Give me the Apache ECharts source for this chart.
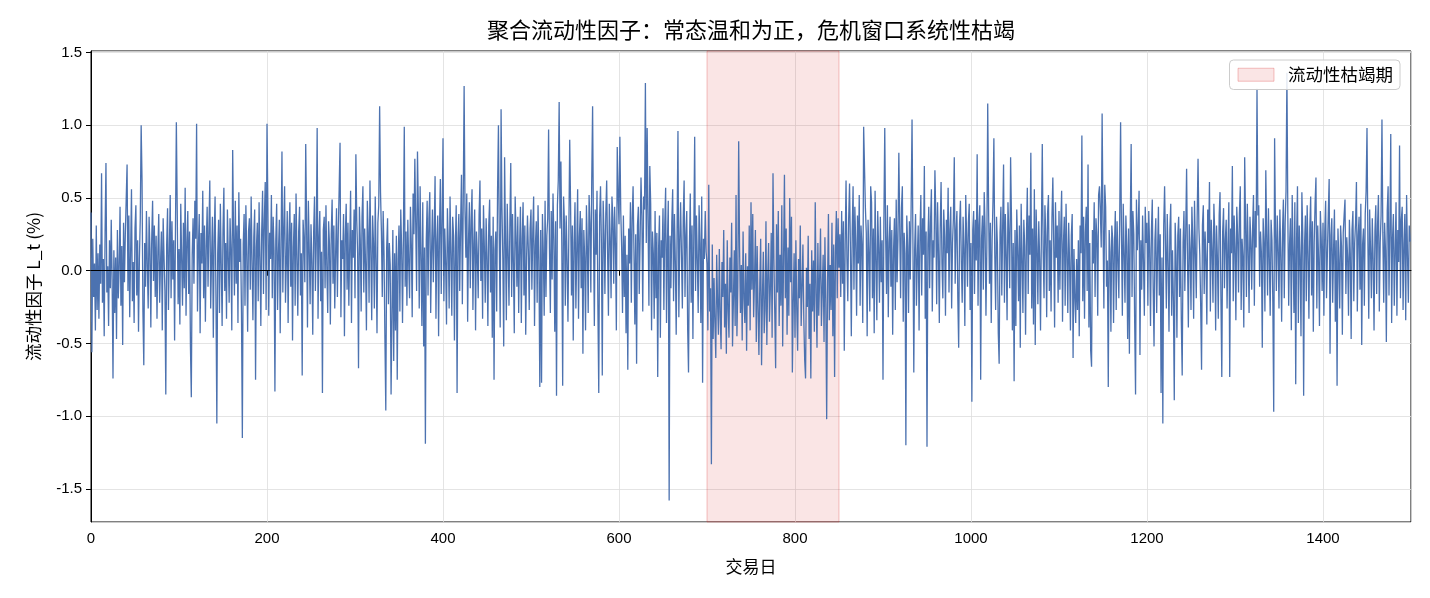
<!DOCTYPE html>
<html>
<head>
<meta charset="utf-8">
<script src="https://cdn.jsdelivr.net/npm/echarts@6/dist/echarts.min.js"></script>
<style>html,body{margin:0;padding:0;background:#fff}#c{width:1430px;height:598px}</style>
</head>
<body>
<div id="c"></div>
<script>
// ---- data ----
const titleText = '聚合流动性因子：常态温和为正，危机窗口系统性枯竭';
const xName = '交易日';
const yName = '流动性因子 L_t (%)';
const bandName = '流动性枯竭期';
const crisisWindow = [700, 850];
const xTicks = [0, 200, 400, 600, 800, 1000, 1200, 1400];
const yTicks = [-1.5, -1.0, -0.5, 0.0, 0.5, 1.0, 1.5];

const seg0 = [0.40,-0.56,0.22,-0.18,0.05,-0.41,0.31,-0.27,0.12,-0.33,
0.18,-0.09,0.67,-0.22,0.08,-0.45,0.26,0.74,-0.15,0.03,
-0.38,0.21,-0.12,0.35,-0.06,-0.74,0.14,-0.29,0.09,-0.47,
0.28,-0.19,0.02,0.44,-0.24,0.17,-0.51,0.33,-0.08,0.25,
0.49,0.73,-0.14,0.38,-0.32,0.11,0.56,-0.21,0.06,-0.36,
0.29,0.45,-0.17,0.21,-0.42,0.08,0.36,1.00,0.62,-0.28,
-0.65,0.19,-0.11,0.41,0.03,-0.26,0.37,0.15,-0.39,0.22,
0.48,-0.07,0.31,-0.18,0.24,-0.33,0.13,0.39,-0.22,0.05,
0.27,-0.41,0.36,0.09,-0.14,-0.85,0.18,0.43,-0.27,0.12,
0.52,-0.19,0.34,-0.06,0.21,-0.48,0.29,1.02,0.41,-0.23];
const seg1 = [0.15,-0.37,0.46,0.08,-0.24,0.33,-0.12,0.57,-0.31,0.19,
0.41,-0.16,0.27,-0.52,-0.87,0.11,0.36,-0.09,0.48,0.22,
1.01,-0.28,0.14,0.39,-0.43,0.26,0.05,0.55,-0.19,0.31,
-0.35,0.17,0.44,-0.11,0.29,0.62,-0.26,0.08,0.37,-0.46,
0.23,0.51,-0.18,-1.05,0.12,0.35,-0.29,0.46,0.04,-0.38,
0.28,0.57,-0.14,0.19,-0.33,0.42,0.09,-0.22,0.36,0.14,
-0.41,0.83,0.25,-0.17,0.48,-0.09,0.31,-0.36,0.54,0.06,
0.22,-0.29,-1.15,0.18,0.39,-0.24,0.45,0.11,-0.42,0.27,
0.36,-0.13,0.51,0.07,-0.34,0.23,0.42,-0.75,0.16,0.33,
-0.21,0.47,0.09,-0.38,0.28,0.55,-0.16,0.35,0.61,-0.27];
const seg2 = [1.01,0.44,-0.31,0.26,0.08,0.52,-0.19,0.37,0.14,-0.83,
0.21,0.46,-0.27,0.12,0.35,-0.43,0.18,0.82,-0.15,0.29,
0.58,-0.22,0.06,0.41,-0.36,0.24,0.47,-0.11,0.33,-0.48,
0.16,0.39,-0.24,0.53,0.09,-0.31,0.27,0.44,-0.17,0.12,
-0.72,0.35,0.21,-0.08,0.87,0.31,-0.39,0.48,0.15,-0.23,
0.32,0.06,-0.44,0.26,0.51,-0.14,0.19,0.98,-0.33,0.22,
0.41,-0.21,0.13,-0.84,0.28,0.37,-0.12,0.45,0.02,-0.29,
0.34,0.18,-0.37,0.25,0.49,-0.09,0.31,-0.26,0.12,0.43,
-0.18,0.27,0.56,0.88,-0.32,0.21,0.08,0.39,-0.45,0.24,
0.46,-0.13,0.33,-0.24,0.17,0.55,-0.36,0.28,0.09,0.42];
const seg3 = [-0.19,0.80,0.35,0.12,-0.67,0.44,0.21,-0.28,0.37,0.58,
-0.15,0.29,0.05,-0.41,0.48,0.26,-0.22,0.62,0.13,-0.34,
0.38,0.19,-0.26,0.51,0.07,-0.43,0.33,0.45,1.13,0.54,
0.27,-0.18,0.41,0.11,-0.47,-0.96,0.16,0.36,-0.23,0.19,
0.04,-0.85,-0.31,0.28,-0.62,0.12,-0.41,0.24,-0.75,0.08,
0.31,-0.28,0.42,0.15,-0.36,0.22,0.99,-0.11,0.27,-0.24,
0.35,0.06,-0.19,0.44,0.18,-0.32,0.53,0.25,0.77,0.32,
-0.14,0.82,0.41,-0.26,0.58,0.09,-0.38,0.47,-0.52,0.16,
-1.19,0.21,0.48,-0.17,0.36,0.54,-0.29,0.13,0.42,-0.08,
0.26,0.65,-0.33,0.19,0.38,-0.45,0.28,0.63,-0.16,0.34];
const seg4 = [0.91,-0.21,0.29,0.06,-0.37,0.43,0.18,-0.26,0.51,0.12,
-0.31,0.37,0.24,-0.48,0.15,0.45,-0.84,0.22,0.39,-0.14,
0.31,0.66,-0.23,0.48,1.27,0.41,0.09,0.53,-0.35,0.21,
0.47,-0.12,0.34,0.56,-0.27,0.18,0.42,-0.41,0.27,0.11,
-0.19,0.38,0.62,-0.07,0.29,-0.33,0.45,0.16,-0.22,0.36,
0.09,-0.38,0.31,0.49,-0.15,0.24,-0.46,0.37,-0.75,0.14,
0.27,-0.28,0.55,1.00,0.19,-0.39,1.11,0.43,0.08,-0.52,
0.78,0.21,-0.34,0.46,0.12,-0.24,0.33,0.74,-0.18,0.39,
0.05,-0.43,0.51,0.24,-0.11,0.37,-0.29,0.16,0.44,-0.36,
0.22,0.47,-0.17,0.31,-0.44,0.09,0.38,0.14,-0.27,0.29];
const seg5 = [0.42,-0.13,0.26,0.51,-0.38,0.17,0.34,-0.22,0.45,0.07,
-0.80,0.28,-0.77,0.39,0.12,-0.31,0.48,-0.18,0.24,0.36,
0.97,0.15,-0.29,0.41,-0.06,0.53,0.22,-0.42,0.34,-0.86,
0.45,0.62,1.16,0.29,0.75,0.18,-0.79,0.51,0.33,-0.24,
0.38,0.07,-0.35,0.26,0.90,0.44,-0.17,0.31,-0.48,0.19,
0.47,-0.26,0.14,0.56,-0.33,0.23,0.41,-0.12,0.36,-0.57,
0.28,0.09,-0.41,0.45,0.17,-0.29,0.52,0.33,-0.15,0.61,
1.13,0.26,-0.38,0.42,0.11,0.55,-0.24,-0.84,0.37,0.58,
0.19,-0.72,0.48,0.25,-0.16,0.39,0.62,0.14,-0.31,0.46,
0.23,-0.19,0.51,0.36,-0.09,0.44,0.18,-0.41,0.85,0.53];
const seg6 = [0.32,0.92,0.41,0.16,-0.29,0.38,-0.18,0.24,-0.43,0.11,
-0.68,0.29,0.05,0.47,-0.22,0.36,0.58,0.13,-0.37,0.25,
-0.64,0.31,0.44,-0.16,0.22,0.64,0.38,-0.28,0.51,0.42,
1.29,0.19,0.98,0.35,-0.24,0.72,0.46,-0.41,0.27,0.12,
-0.33,0.41,-0.19,0.26,-0.73,0.15,0.38,-0.46,0.21,0.09,
0.43,-0.27,0.31,0.57,-0.36,0.18,0.48,-1.58,0.24,-0.12,
0.33,0.56,-0.21,0.39,0.07,-0.44,0.28,0.96,-0.32,0.19,
0.47,0.11,-0.26,0.36,0.62,-0.18,0.24,0.41,-0.39,-0.70,
0.15,0.53,-0.22,0.31,-0.47,0.26,0.92,-0.14,0.38,0.07,
-0.29,0.45,0.19,-0.36,0.51,-0.77,0.22,0.08,0.41,0.13];
const seg7 = [0.05,-0.41,0.59,-0.28,-0.12,-1.33,0.18,-0.47,-0.05,-0.36,
-0.60,0.11,-0.22,-0.44,0.15,-0.31,-0.54,0.06,-0.18,0.28,
-0.39,-0.09,-0.57,0.21,-0.27,-0.46,0.09,-0.15,0.33,-0.52,
-0.21,0.14,-0.38,0.52,-0.45,-0.11,0.89,0.16,-0.29,0.04,
-0.48,0.27,-0.19,-0.36,0.12,-0.55,0.03,-0.24,0.31,-0.41,
0.47,-0.13,0.39,-0.32,-0.06,0.28,-0.49,0.17,-0.26,-0.58,
-0.09,0.22,-0.65,-0.18,0.13,-0.43,-0.27,0.34,-0.51,-0.04,
0.19,-0.35,-0.12,0.26,-0.46,0.67,0.08,-0.29,-0.67,0.32,
-0.15,0.41,-0.38,0.11,-0.24,0.45,-0.52,0.07,0.66,-0.19,
0.29,-0.44,0.16,-0.31,0.50,-0.08,0.37,-0.70,-0.22,0.12];
const seg8 = [-0.46,0.21,-0.27,-0.55,0.08,-0.19,0.31,-0.38,-0.12,0.18,
-0.33,-0.61,-0.74,0.02,-0.25,0.24,-0.47,-0.09,-0.74,0.14,
-0.28,0.07,-0.42,0.47,-0.16,-0.53,0.19,-0.31,-0.05,0.29,
-0.38,-0.14,0.11,-0.49,0.23,-0.22,-1.02,-0.08,0.39,-0.34,
0.04,-0.27,0.33,-0.45,0.18,-0.73,0.12,0.41,-0.19,0.36,
0.02,0.25,-0.18,0.41,-0.09,0.34,-0.55,0.17,0.62,0.08,
-0.21,0.36,0.60,0.14,-0.45,0.27,0.58,-0.13,0.44,0.19,
-0.31,0.38,0.05,0.52,-0.24,0.31,0.17,-0.36,0.99,0.99,
0.43,0.26,-0.45,0.35,0.12,-0.28,0.58,0.47,-0.19,0.29,
-0.43,0.55,0.08,-0.34,0.41,0.16,-0.22,0.37,-0.08,0.21];
const seg9 = [-0.75,0.33,0.98,0.24,-0.16,0.45,-0.32,0.19,0.37,-0.11,
0.28,-0.44,0.14,0.36,-0.27,0.49,-0.08,0.22,0.81,0.31,
-0.19,0.43,0.58,-0.35,0.26,0.12,-1.20,0.38,0.17,-0.29,
0.34,-0.06,0.46,1.04,0.21,-0.70,0.15,0.39,-0.24,0.08,
0.31,-0.41,0.24,0.52,-0.17,0.36,0.11,0.72,-0.33,0.27,
-1.21,0.18,0.44,-0.12,0.33,0.56,-0.28,0.21,0.09,0.69,
0.38,-0.23,0.47,0.14,-0.36,0.29,0.61,0.05,-0.19,0.42,
0.23,-0.31,0.35,0.12,0.57,-0.15,0.28,0.44,-0.26,0.19,
0.36,0.78,-0.09,0.27,0.41,-0.18,-0.53,0.32,0.48,0.06,
-0.22,0.37,0.15,-0.38,0.52,0.24,-0.11,0.33,0.46,-0.27];
const seg10 = [0.19,-0.90,0.28,0.41,-0.16,0.35,0.07,0.80,-0.24,0.31,
0.45,-0.75,0.22,0.38,-0.13,0.54,0.29,-0.31,0.16,1.15,
0.42,-0.09,0.33,-0.36,0.21,0.48,0.91,0.12,-0.27,0.37,
0.18,-0.43,-0.64,0.26,0.44,-0.17,0.31,0.73,-0.22,0.39,
0.11,-0.34,0.47,0.25,-0.12,0.78,0.36,-0.41,0.19,-0.76,
0.28,-0.38,0.42,0.14,-0.21,0.31,-0.53,0.46,0.09,-0.29,
0.35,0.17,-0.44,0.23,0.57,-0.16,0.38,0.11,0.81,-0.26,
0.29,-0.37,0.56,-0.51,0.42,0.16,-0.23,0.34,0.08,-0.41,
0.27,0.87,0.13,-0.19,0.45,0.24,-0.32,0.39,0.52,-0.14,
0.21,-0.28,0.36,0.64,0.18,-0.39,0.47,0.09,0.31,-0.22];
const seg11 = [0.41,-0.13,0.29,0.55,-0.35,0.18,0.37,-0.24,0.46,0.12,
-0.29,0.33,0.06,-0.41,0.24,0.39,-0.60,0.15,-0.18,-0.36,
0.08,-0.27,0.21,-0.45,0.31,0.12,0.93,-0.21,0.37,-0.33,
0.26,0.44,-0.14,0.73,-0.39,0.19,-0.55,-0.66,0.28,0.05,
0.47,-0.18,0.36,0.24,-0.31,0.52,0.58,0.41,0.16,1.08,
0.35,-0.26,0.59,0.44,-0.11,0.07,-0.80,0.28,0.13,-0.42,
0.31,0.22,-0.36,0.16,0.41,-0.27,0.34,0.08,-0.19,0.37,
1.02,0.24,-0.31,0.46,0.12,-0.22,0.38,0.17,-0.47,0.29,
-0.57,0.33,0.87,-0.18,0.41,0.25,-0.36,-0.85,0.49,0.14,
0.29,0.55,-0.58,0.21,-0.13,0.38,0.06,-0.31,0.44,0.19];
const seg12 = [0.33,-0.24,0.41,0.15,-0.38,0.27,0.49,-0.12,-0.52,0.21,
0.36,-0.29,0.12,0.44,-0.17,0.25,-0.84,0.09,-1.05,0.31,
0.58,0.17,-0.26,0.39,0.07,-0.42,0.28,0.46,-0.31,0.14,
-0.21,-0.89,0.33,0.11,-0.46,0.24,0.37,-0.18,0.29,-0.35,
-0.72,0.19,0.41,-0.14,0.26,0.70,0.08,-0.39,0.32,0.15,
-0.27,0.44,0.21,-0.33,0.48,0.13,-0.19,0.36,0.77,0.29,
0.11,-0.24,-0.68,0.31,0.45,-0.16,0.27,0.08,-0.37,0.42,
0.19,0.61,-0.28,0.35,0.14,-0.22,0.46,0.25,-0.41,0.31,
0.09,-0.33,0.38,0.54,-0.18,-0.73,0.27,0.43,-0.12,0.21,
0.35,-0.26,0.17,0.47,-0.73,0.29,0.12,0.72,-0.21,0.38];
const seg13 = [0.16,-0.34,0.44,0.25,-0.15,0.39,0.58,-0.27,0.22,0.09,
-0.39,0.78,0.33,-0.18,0.46,0.14,-0.29,0.37,0.21,-0.13,
0.29,0.52,-0.24,0.41,0.16,1.25,0.38,0.45,-0.11,0.27,
0.12,-0.53,0.36,0.19,-0.28,0.69,0.24,-0.17,0.43,0.08,
-0.31,0.35,0.21,-0.22,-0.97,0.91,0.29,-0.14,0.38,0.15,
-0.26,0.42,0.11,-0.35,0.27,0.49,-0.19,0.33,0.55,1.36,
0.41,-0.24,0.18,0.36,-0.41,0.52,0.13,-0.29,0.47,-0.78,
0.22,0.58,-0.36,0.31,0.09,-0.45,0.54,0.26,-0.86,0.17,
0.38,-0.21,0.45,0.12,-0.33,0.29,0.51,-0.17,0.34,-0.42,
0.19,0.46,0.64,-0.26,0.31,0.08,-0.38,0.41,0.22,-0.14];
const seg14 = [0.33,-0.31,0.27,0.48,-0.19,0.12,0.39,0.63,-0.57,0.24,
0.36,-0.22,0.14,0.42,-0.35,0.21,-0.79,0.29,0.07,-0.26,
0.31,0.17,-0.44,0.26,0.38,0.49,-0.16,0.23,0.09,-0.31,
0.35,0.12,-0.47,0.28,0.41,-0.21,0.19,0.33,0.61,-0.28,
0.24,0.37,-0.13,0.46,-0.51,0.18,0.29,-0.24,0.39,0.55,
0.98,0.21,-0.33,0.42,0.14,-0.19,0.36,0.08,-0.41,0.27,
0.45,-0.16,0.31,0.52,-0.28,0.19,0.38,1.04,0.26,-0.22,
0.33,0.14,-0.49,0.41,0.58,-0.17,0.27,0.94,-0.36,0.22,
0.39,-0.24,0.13,0.47,-0.31,0.28,0.06,0.86,-0.19,0.35,
0.44,-0.27,0.18,0.39,-0.34,0.52,0.11,-0.22,0.31,0.20];

const values = [].concat(seg0,seg1,seg2,seg3,seg4,seg5,seg6,seg7,seg8,seg9,seg10,seg11,seg12,seg13,seg14);
const lineData = values.map((v, i) => [i, v]);

const LATIN = "'Liberation Sans', 'Noto Sans CJK SC', sans-serif";
const CJK = "'Noto Sans CJK SC', 'Liberation Sans', sans-serif";
const bandFill = 'rgba(214,39,40,0.12)';
const bandEdge = 'rgba(214,39,40,0.28)';

const chart = echarts.init(document.getElementById('c'), null, {renderer: 'canvas'});
chart.setOption({
  animation: false,
  backgroundColor: '#ffffff',
  title: {
    text: titleText, left: 751, top: 19, textAlign: 'center', padding: 0,
    textStyle: {fontSize: 22, fontWeight: 'normal', color: '#000', fontFamily: CJK}
  },
  legend: {
    right: 30, top: 60, selectedMode: false,
    data: [{name: bandName, icon: 'rect', itemStyle: {color: bandFill, borderColor: bandEdge, borderWidth: 1}}],
    itemWidth: 36, itemHeight: 13,
    textStyle: {fontSize: 17.5, color: '#000', fontFamily: CJK, padding: [0, 0, 0, 9]},
    backgroundColor: 'rgba(255,255,255,0.85)', borderColor: '#cccccc', borderWidth: 1, borderRadius: 4,
    padding: [6, 7, 6, 8]
  },
  grid: {left: 91, right: 19, top: 51, bottom: 76, show: true, borderColor: '#000', borderWidth: 1, backgroundColor: 'transparent'},
  xAxis: {
    type: 'value', min: 0, max: 1500, interval: 200,
    name: xName, nameLocation: 'middle', nameGap: 36,
    nameTextStyle: {fontSize: 17, color: '#000', fontFamily: CJK},
    axisLine: {show: true, lineStyle: {color: '#000', width: 1}},
    axisTick: {show: true, inside: false, length: 5, lineStyle: {color: '#000', width: 1}},
    axisLabel: {color: '#000', fontSize: 15, fontFamily: LATIN, margin: 9, showMaxLabel: false,
      formatter: v => (xTicks.indexOf(v) >= 0 ? String(v) : '')},
    splitLine: {show: true, lineStyle: {color: '#dddddd', width: 0.8}}
  },
  yAxis: {
    type: 'value', min: -1.727, max: 1.51, splitNumber: 6,
    name: yName, nameLocation: 'middle', nameGap: 49, nameRotate: 90,
    nameTextStyle: {fontSize: 17.5, color: '#000', fontFamily: CJK},
    axisLine: {show: true, lineStyle: {color: '#000', width: 1}},
    axisTick: {show: true, inside: false, length: 5, lineStyle: {color: '#000', width: 1}},
    axisLabel: {color: '#000', fontSize: 15, fontFamily: LATIN, margin: 9, showMinLabel: false, showMaxLabel: false,
      formatter: v => {
        const t = yTicks.find(k => Math.abs(k - v) < 1e-6);
        return t === undefined ? '' : t.toFixed(1);
      }},
    splitLine: {show: true, lineStyle: {color: '#dddddd', width: 0.8}}
  },
  series: [
    {
      name: bandName, type: 'line', data: [], silent: true,
      itemStyle: {color: bandFill},
      markArea: {
        silent: true,
        itemStyle: {color: bandFill, borderColor: bandEdge, borderWidth: 1},
        data: [[{xAxis: crisisWindow[0]}, {xAxis: crisisWindow[1]}]]
      }
    },
    {
      name: 'L_t', type: 'line', data: lineData, showSymbol: false, symbol: 'none', silent: true,
      lineStyle: {color: '#4c72b0', width: 1.3}, itemStyle: {color: '#4c72b0'},
      markLine: {
        silent: true, symbol: 'none', label: {show: false},
        lineStyle: {color: '#000', width: 1, type: 'solid'},
        data: [{yAxis: 0}]
      }
    }
  ]
});
</script>
</body>
</html>
